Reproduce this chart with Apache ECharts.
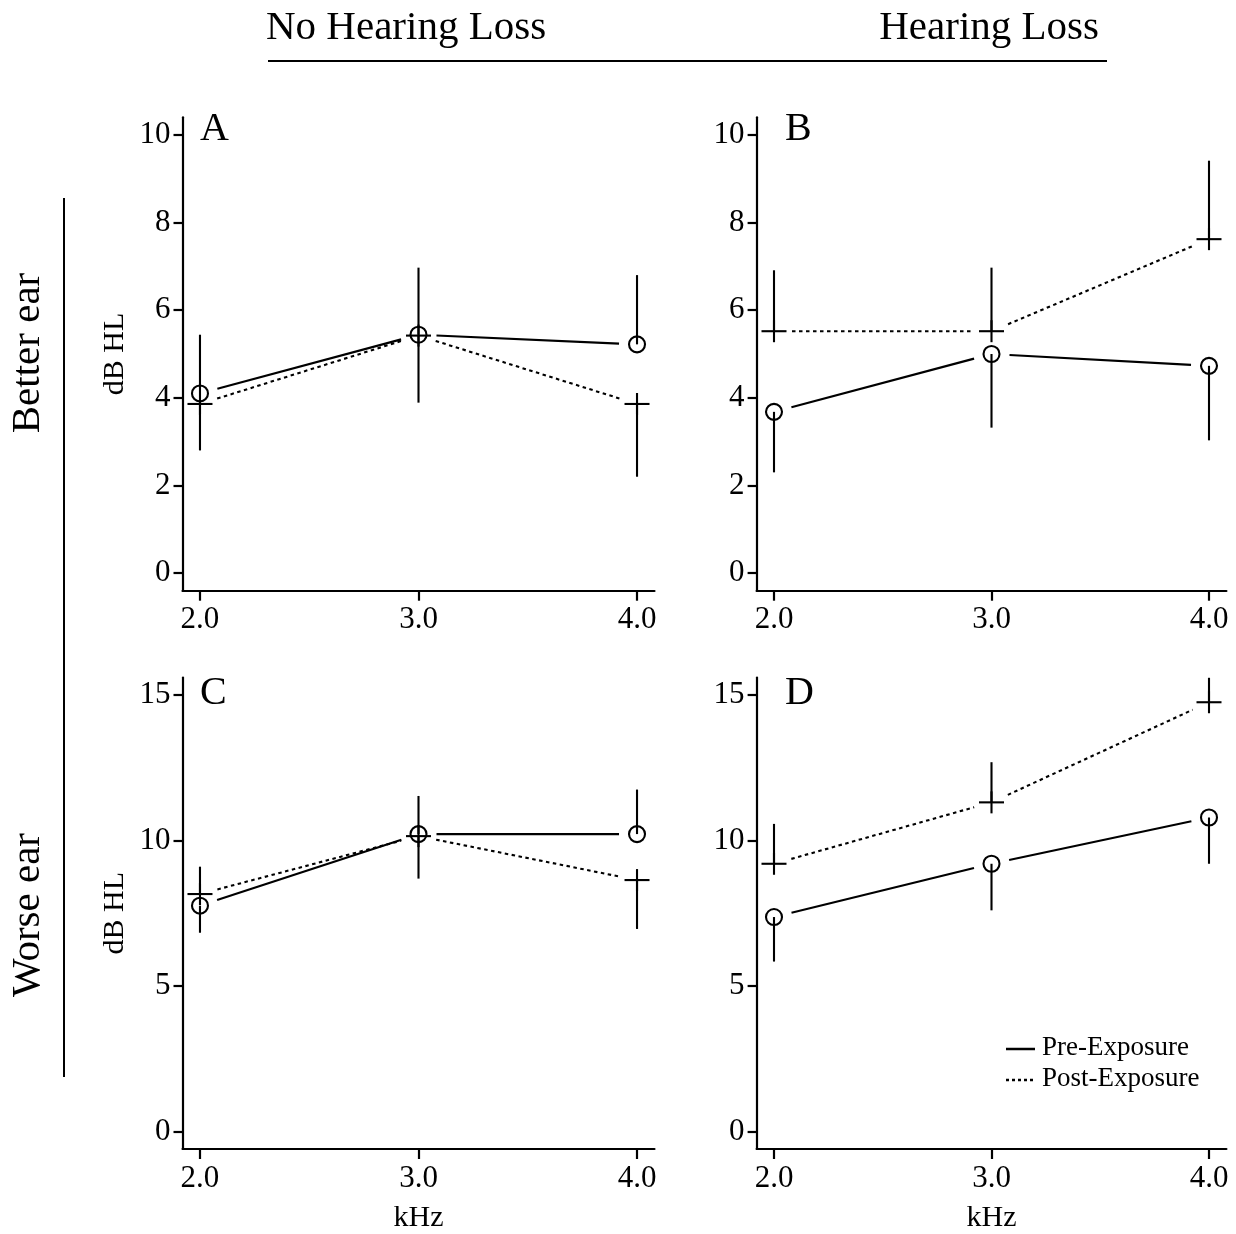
<!DOCTYPE html>
<html><head><meta charset="utf-8">
<script src="https://cdn.jsdelivr.net/npm/echarts@6/dist/echarts.min.js"></script>
<style>html,body{margin:0;padding:0;background:#fff}#c{width:1236px;height:1234px}</style>
</head><body><div id="c"></div>
<script>
// ---------- data ----------
const freqs = [2.0, 3.0, 4.0];
const xTicks = [2, 3, 4];
const yTicksTop = [0, 2, 4, 6, 8, 10];
const yTicksBottom = [0, 5, 10, 15];
const panelLetters = ['A', 'B', 'C', 'D'];
const columnTitles = ['No Hearing Loss', 'Hearing Loss'];
const rowTitles = ['Better ear', 'Worse ear'];
const seriesNames = ['Pre-Exposure', 'Post-Exposure'];

// means and error-bar end values (dB HL)
const preA = [4.1, 5.44, 5.22];   const preA_bar = [5.44, 6.97, 6.8];
const postA = [3.86, 5.42, 3.86]; const postA_bar = [2.8, 3.89, 2.2];
const preB = [3.68, 5.0, 4.73];   const preB_bar = [2.3, 3.32, 3.03];
const postB = [5.52, 5.52, 7.62]; const postB_bar = [6.91, 6.97, 9.41];
const preC = [7.76, 10.22, 10.22];  const preC_bar = [6.83, 11.53, 11.75];
const postC = [8.16, 10.15, 8.64];  const postC_bar = [9.1, 8.69, 6.96];
const preD = [7.37, 9.2, 10.79];    const preD_bar = [5.84, 7.6, 9.2];
const postD = [9.2, 11.31, 14.75];  const postD_bar = [10.57, 12.69, 15.59];

// ---------- build ----------
const FONT = 'Liberation Serif, Times New Roman, serif';
const panels = [
  {pre: preA, preBar: preA_bar, post: postA, postBar: postA_bar, ticks: yTicksTop, ymin: -0.4, ymax: 10.4},
  {pre: preB, preBar: preB_bar, post: postB, postBar: postB_bar, ticks: yTicksTop, ymin: -0.4, ymax: 10.4},
  {pre: preC, preBar: preC_bar, post: postC, postBar: postC_bar, ticks: yTicksBottom, ymin: -0.6, ymax: 15.6},
  {pre: preD, preBar: preD_bar, post: postD, postBar: postD_bar, ticks: yTicksBottom, ymin: -0.6, ymax: 15.6}
];
const gridPos = [
  {left: 182.5, top: 117.3, width: 472, height: 473.4},
  {left: 756.6, top: 117.3, width: 469.8, height: 473.4},
  {left: 182.5, top: 677.5, width: 472, height: 475},
  {left: 756.6, top: 677.5, width: 469.8, height: 475}
];

function items(vals, bars) {
  return freqs.map((f, i) => [f, vals[i], bars[i],
    i + 1 < freqs.length ? freqs[i + 1] : null,
    i + 1 < vals.length ? vals[i + 1] : null]);
}

function makeRender(kind) {
  return function (params, api) {
    const x = api.value(0), y = api.value(1), e = api.value(2);
    const nx = api.value(3), ny = api.value(4);
    const p = api.coord([x, y]);
    const pe = api.coord([x, e]);
    const stroke = {stroke: '#000', lineWidth: 2.1, fill: null};
    const ch = [];
    ch.push({type: 'line', shape: {x1: p[0], y1: p[1], x2: pe[0], y2: pe[1]}, style: stroke});
    if (kind === 'pre') {
      ch.push({type: 'circle', shape: {cx: p[0], cy: p[1], r: 8}, style: {stroke: '#000', lineWidth: 2.1, fill: null}});
    } else {
      ch.push({type: 'line', shape: {x1: p[0] - 12.5, y1: p[1], x2: p[0] + 12.5, y2: p[1]}, style: stroke});
      ch.push({type: 'line', shape: {x1: p[0], y1: p[1] - 11, x2: p[0], y2: p[1] + 11}, style: stroke});
    }
    if (nx != null && !isNaN(nx) && ny != null && !isNaN(ny)) {
      const q = api.coord([nx, ny]);
      const dx = q[0] - p[0], dy = q[1] - p[1];
      const L = Math.sqrt(dx * dx + dy * dy);
      const g = 18;
      if (L > 2 * g) {
        ch.push({type: 'line', shape: {
          x1: p[0] + dx * g / L, y1: p[1] + dy * g / L,
          x2: q[0] - dx * g / L, y2: q[1] - dy * g / L},
          style: kind === 'pre' ? {stroke: '#000', lineWidth: 2.2}
                                : {stroke: '#000', lineWidth: 2.1, lineDash: [3.5, 3.5]}});
      }
    }
    return {type: 'group', children: ch};
  };
}

const grid = [], xAxis = [], yAxis = [], series = [];
panels.forEach((pn, k) => {
  grid.push(Object.assign({containLabel: false}, gridPos[k]));
  xAxis.push({
    type: 'value', gridIndex: k, min: 1.92, max: 4.08,
    name: k >= 2 ? 'kHz' : '', nameLocation: 'middle', nameGap: 54,
    nameTextStyle: {fontFamily: FONT, fontSize: 30, color: '#000'},
    axisLine: {show: true, onZero: false, lineStyle: {color: '#000', width: 2.2}},
    axisTick: {show: true, inside: false, length: 10, customValues: xTicks, lineStyle: {color: '#000', width: 2.2}},
    axisLabel: {show: true, margin: 14, customValues: xTicks, formatter: v => v.toFixed(1),
      fontFamily: FONT, fontSize: 31, color: '#000'},
    splitLine: {show: false}
  });
  yAxis.push({
    type: 'value', gridIndex: k, min: pn.ymin, max: pn.ymax,
    name: (k % 2 === 0) ? 'dB HL' : '', nameLocation: 'middle', nameGap: 52, nameRotate: 90,
    nameTextStyle: {fontFamily: FONT, fontSize: 30, color: '#000'},
    axisLine: {show: true, onZero: false, lineStyle: {color: '#000', width: 2.2}},
    axisTick: {show: true, inside: false, length: 9, customValues: pn.ticks, lineStyle: {color: '#000', width: 2.2}},
    axisLabel: {show: true, margin: 12, customValues: pn.ticks, fontFamily: FONT, fontSize: 31, color: '#000'},
    splitLine: {show: false}
  });
  series.push({
    type: 'custom', name: seriesNames[0], xAxisIndex: k, yAxisIndex: k,
    renderItem: makeRender('pre'), data: items(pn.pre, pn.preBar), clip: false,
    encode: {x: 0, y: 1}, silent: true
  });
  series.push({
    type: 'custom', name: seriesNames[1], xAxisIndex: k, yAxisIndex: k,
    renderItem: makeRender('post'), data: items(pn.post, pn.postBar), clip: false,
    encode: {x: 0, y: 1}, silent: true
  });
});

const letterPos = [[200, 129], [785, 129], [200, 693], [785, 693]];
const graphic = [];
panelLetters.forEach((t, k) => graphic.push({
  type: 'text', left: letterPos[k][0], top: letterPos[k][1] - 20,
  style: {text: t, fontFamily: FONT, fontSize: 40, fill: '#000', lineHeight: 40}
}));
graphic.push({type: 'text', left: 266, top: 8,
  style: {text: columnTitles[0], fontFamily: FONT, fontSize: 41, fill: '#000', lineHeight: 41}});
graphic.push({type: 'text', right: 1236 - 1099, top: 8,
  style: {text: columnTitles[1], fontFamily: FONT, fontSize: 41, fill: '#000', lineHeight: 41}});
graphic.push({type: 'line', shape: {x1: 268, y1: 61, x2: 1107, y2: 61}, style: {stroke: '#000', lineWidth: 2}});
graphic.push({type: 'line', shape: {x1: 64, y1: 198, x2: 64, y2: 1077}, style: {stroke: '#000', lineWidth: 2}});
[[353, rowTitles[0]], [915, rowTitles[1]]].forEach(([cy, t]) => graphic.push({
  type: 'text', x: 28, y: cy, rotation: Math.PI / 2,
  style: {text: t, fontFamily: FONT, fontSize: 41, fill: '#000', align: 'center', verticalAlign: 'middle'}
}));
// legend (panel D)
graphic.push({type: 'line', shape: {x1: 1006, y1: 1049, x2: 1035, y2: 1049}, style: {stroke: '#000', lineWidth: 2.5}});
graphic.push({type: 'line', shape: {x1: 1006, y1: 1080, x2: 1035, y2: 1080}, style: {stroke: '#000', lineWidth: 2.5, lineDash: [3, 3]}});
graphic.push({type: 'text', x: 1042, y: 1048,
  style: {text: seriesNames[0], fontFamily: FONT, fontSize: 27, fill: '#000', verticalAlign: 'middle'}});
graphic.push({type: 'text', x: 1042, y: 1079,
  style: {text: seriesNames[1], fontFamily: FONT, fontSize: 27, fill: '#000', verticalAlign: 'middle'}});

const chart = echarts.init(document.getElementById('c'), null, {renderer: 'canvas'});
chart.setOption({
  backgroundColor: '#fff',
  animation: false,
  grid, xAxis, yAxis, series, graphic
});
</script></body></html>
